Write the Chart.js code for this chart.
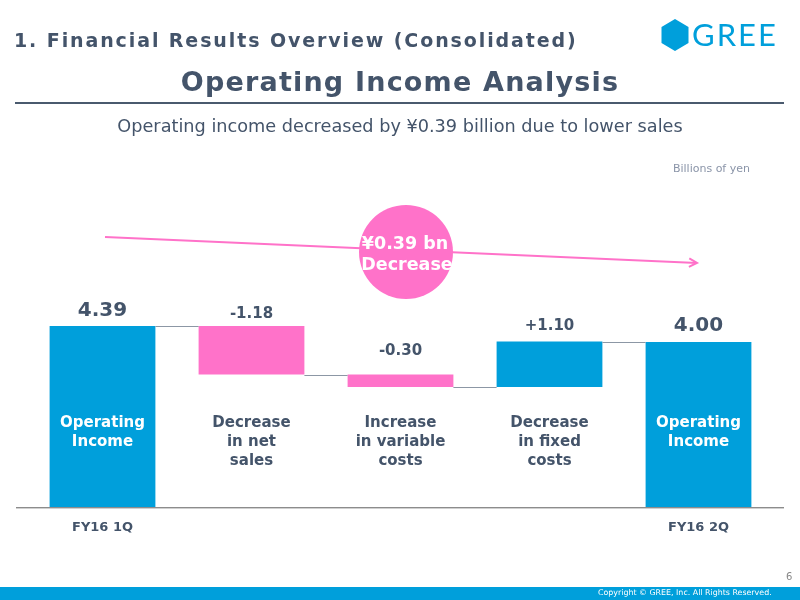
<!DOCTYPE html>
<html><head><meta charset="utf-8">
<script src="https://cdn.jsdelivr.net/npm/chart.js@4"></script>
<style>
html,body{margin:0;padding:0;background:#fff;}
#wrap{position:relative;width:800px;height:600px;overflow:hidden;font-family:"DejaVu Sans",Verdana,sans-serif;color:#44546A;}
#c{position:absolute;left:0;top:0;}
.t{position:absolute;white-space:nowrap;}
#h1{left:14px;top:29px;font-size:19px;font-weight:bold;letter-spacing:1.9px;}
#h2{left:0;width:800px;text-align:center;top:66px;font-size:27px;font-weight:bold;letter-spacing:1.2px;}
#rule{position:absolute;left:15px;width:769px;top:102px;height:2px;background:#4a5a6e;}
#sub{left:0;width:800px;text-align:center;top:116px;font-size:17.7px;}
#unit{right:50px;top:162px;font-size:11px;color:#8a94a8;}
#logo{position:absolute;left:661px;top:19px;}
#gree{left:692px;top:15px;font-family:Lato,"Open Sans",sans-serif;font-size:31px;color:#009FDB;letter-spacing:2px;}
#foot{position:absolute;left:0;top:587px;width:800px;height:13px;background:#009FDB;}
#copy{left:598px;top:588px;font-size:7.9px;color:#fff;}
#pg{left:786px;top:571px;font-size:10px;color:#888;}
</style></head>
<body><div id="wrap">
<canvas id="c" width="800" height="600"></canvas>
<div class="t" id="h1">1. Financial Results Overview (Consolidated)</div>
<div class="t" id="h2">Operating Income Analysis</div>
<div id="rule"></div>
<div class="t" id="sub">Operating income decreased by ¥0.39 billion due to lower sales</div>
<div class="t" id="unit">Billions of yen</div>
<svg id="logo" width="28" height="32" viewBox="0 0 28 32"><polygon points="14,0 27.5,8 27.5,24 14,32 0.5,24 0.5,8" fill="#009FDB"/></svg>
<div class="t" id="gree">GREE</div>
<div id="foot"></div>
<div class="t" id="copy">Copyright © GREE, Inc. All Rights Reserved.</div>
<div class="t" id="pg">6</div>
</div>
<script>
const categories = [["Operating","Income"],["Decrease","in net","sales"],["Increase","in variable","costs"],["Decrease","in fixed","costs"],["Operating","Income"]];
const periodLabels = ["FY16 1Q","","","","FY16 2Q"];
const changes = [4.39, -1.18, -0.30, 1.10, 4.00];
const valueLabels = ["4.39","-1.18","-0.30","+1.10","4.00"];
const isTotal = [true,false,false,false,true];

const BLUE = "#009FDB", PINK = "#FF72C9", DARK = "#44546A";

// build floating ranges
const ranges = [];
let level = 0;
changes.forEach((v,i)=>{
  if(isTotal[i]){ ranges.push([0,v]); level = v; }
  else { ranges.push([level, level+v]); level += v; }
});
const colors = changes.map((v,i)=> isTotal[i] ? BLUE : (v<0 ? PINK : BLUE));
const labelOffsets = [15,12,23,15,16];

const deco = {
  id:'deco',
  beforeDatasetsDraw(chart){
    const ctx = chart.ctx;
    const y0 = chart.scales.y.getPixelForValue(0);
    ctx.save();
    ctx.fillStyle = '#8c8c8c'; ctx.fillRect(16, Math.round(y0), 768, 1);
    ctx.fillStyle = '#d0d0d0'; ctx.fillRect(16, Math.round(y0)+1, 768, 1);
    ctx.restore();
  },
  afterDatasetsDraw(chart){
    const ctx = chart.ctx;
    const meta = chart.getDatasetMeta(0);
    const ys = chart.scales.y;
    ctx.save();
    // connectors
    ctx.strokeStyle = '#8c97a5'; ctx.lineWidth = 1;
    for(let i=0;i<meta.data.length-1;i++){
      const a = meta.data[i], b = meta.data[i+1];
      const endLevel = ranges[i][1];
      const y = Math.round(ys.getPixelForValue(endLevel))+0.5;
      ctx.beginPath(); ctx.moveTo(a.x + a.width/2, y); ctx.lineTo(b.x - b.width/2, y); ctx.stroke();
    }
    // value labels
    ctx.textAlign = 'center'; ctx.textBaseline = 'middle';
    meta.data.forEach((bar,i)=>{
      const top = ys.getPixelForValue(Math.max(ranges[i][0],ranges[i][1]));
      ctx.fillStyle = DARK;
      ctx.font = isTotal[i] ? 'bold 20px "DejaVu Sans"' : 'bold 15px "DejaVu Sans"';
      ctx.fillText(valueLabels[i], bar.x, top - labelOffsets[i]);
      // category labels
      ctx.font = 'bold 15px "DejaVu Sans"';
      ctx.fillStyle = isTotal[i] ? '#fff' : DARK;
      categories[i].forEach((line,k)=> ctx.fillText(line, bar.x, 423.5 + k*18.8));
      // period labels
      if(periodLabels[i]){
        ctx.font = 'bold 13px "DejaVu Sans"';
        ctx.fillStyle = DARK;
        ctx.fillText(periodLabels[i], bar.x, 528);
      }
    });
    // arrow
    ctx.strokeStyle = PINK; ctx.lineWidth = 2;
    const x1=105,y1=237,x2=697,y2=263;
    ctx.beginPath(); ctx.moveTo(x1,y1); ctx.lineTo(x2,y2); ctx.stroke();
    const ang = Math.atan2(y2-y1,x2-x1);
    ctx.beginPath();
    ctx.moveTo(x2 - 9*Math.cos(ang-0.5), y2 - 9*Math.sin(ang-0.5));
    ctx.lineTo(x2,y2);
    ctx.lineTo(x2 - 9*Math.cos(ang+0.5), y2 - 9*Math.sin(ang+0.5));
    ctx.stroke();
    // circle
    ctx.fillStyle = PINK;
    ctx.beginPath(); ctx.arc(406,252,47,0,Math.PI*2); ctx.fill();
    ctx.fillStyle = '#fff';
    ctx.font = 'bold 17.5px "DejaVu Sans"';
    ctx.fillText('¥0.39 bn', 405, 244);
    ctx.fillText('Decrease', 407, 265);
    ctx.restore();
  }
};

new Chart(document.getElementById('c'), {
  type:'bar',
  data:{
    labels: periodLabels,
    datasets:[{data: ranges, backgroundColor: colors, borderWidth:0, barPercentage:0.71, categoryPercentage:1}]
  },
  options:{
    responsive:false, animation:false,
    layout:{padding:{left:28,right:27,top:177,bottom:93}},
    plugins:{legend:{display:false},tooltip:{enabled:false}},
    scales:{
      x:{display:false},
      y:{display:false,min:0,max:8}
    }
  },
  plugins:[deco]
});
</script>
</body></html>
